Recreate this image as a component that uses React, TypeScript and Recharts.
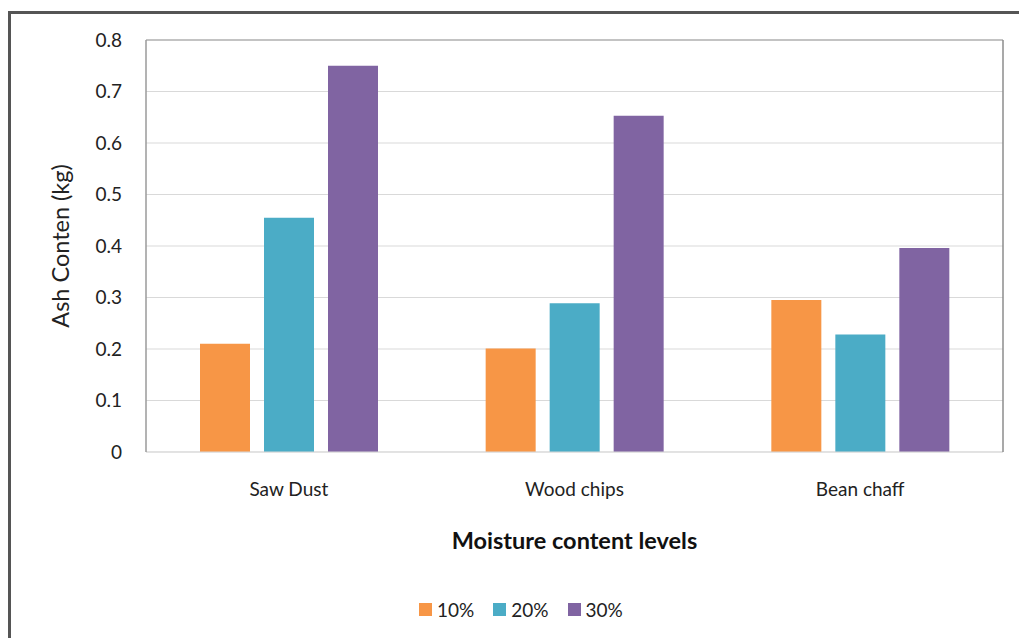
import { BarChart, Bar, XAxis, YAxis, CartesianGrid, Legend } from "recharts";

const categories = ["Saw Dust", "Wood chips", "Bean chaff"];
const moisture10 = [0.21, 0.201, 0.295];
const moisture20 = [0.455, 0.289, 0.228];
const moisture30 = [0.75, 0.653, 0.396];
const seriesNames = ["10%", "20%", "30%"];
const seriesColors = ["#F79646", "#4BACC6", "#8064A2"];
const yTicks = [0, 0.1, 0.2, 0.3, 0.4, 0.5, 0.6, 0.7, 0.8];

const data = categories.map((name, i) => ({
  name,
  m10: moisture10[i],
  m20: moisture20[i],
  m30: moisture30[i],
}));
const keys = ["m10", "m20", "m30"];

const font = "Lato, 'Open Sans', sans-serif";

function AshLegend() {
  return (
    <div style={{ display: "flex", alignItems: "center", paddingLeft: 419, paddingTop: 8, fontFamily: font, fontSize: 19, color: "#222" }}>
      {seriesNames.map((s, i) => (
        <div key={s} style={{ display: "flex", alignItems: "center", marginRight: 19 }}>
          <div style={{ width: 13, height: 13, background: seriesColors[i], marginRight: 5 }} />
          <span>{s}</span>
        </div>
      ))}
    </div>
  );
}

export default function App() {
  return (
    <div style={{ position: "absolute", left: 0, top: 0, width: 1019, height: 638, background: "#fff", overflow: "hidden" }}>
      <div
        style={{
          position: "absolute",
          left: 8,
          top: 11,
          width: 1030,
          height: 650,
          borderLeft: "3px solid #555",
          borderTop: "3px solid #555",
        }}
      />
      <div style={{ position: "absolute", left: 0, top: 0 }}>
        <BarChart
          width={1019}
          height={638}
          data={data}
          margin={{ top: 39, right: 15, left: 0, bottom: 8 }}
          barSize={50}
          barGap={14}
        >
          <CartesianGrid vertical={false} stroke="#d9d9d9" />
          <XAxis
            dataKey="name"
            height={138}
            axisLine={{ stroke: "#d9d9d9" }}
            tickLine={false}
            tickSize={0}
            tickMargin={31}
            tick={{ fontFamily: font, fontSize: 19, fill: "#222" }}
            label={{
              value: "Moisture content levels",
              position: "insideBottom",
              offset: 41,
              style: { fontFamily: font, fontSize: 23.5, fontWeight: 700, fill: "#111" },
            }}
          />
          <XAxis xAxisId="top" dataKey="name" orientation="top" height={1} tick={false} tickLine={false} axisLine={{ stroke: "#9a9a9a" }} />
          <YAxis
            width={146}
            domain={[0, 0.8]}
            ticks={yTicks}
            axisLine={{ stroke: "#9a9a9a", strokeWidth: 1.5 }}
            tickLine={false}
            tickSize={0}
            tickMargin={24}
            tick={{ fontFamily: font, fontSize: 19, fill: "#222" }}
            label={{
              content: ({ viewBox }: any) => {
                const cx = viewBox.x + 60;
                const cy = viewBox.y + viewBox.height / 2;
                return (
                  <text
                    x={cx}
                    y={cy}
                    transform={`rotate(-90 ${cx} ${cy})`}
                    textAnchor="middle"
                    dominantBaseline="central"
                    style={{ fontFamily: font, fontSize: 23.5, fill: "#222" }}
                  >
                    Ash Conten (kg)
                  </text>
                );
              },
            }}
          />
          <YAxis yAxisId="right" orientation="right" width={1} domain={[0, 0.8]} tick={false} tickLine={false} axisLine={{ stroke: "#8c8c8c", strokeWidth: 1.5 }} />
          <Legend verticalAlign="bottom" height={40} wrapperStyle={{ left: 0, width: 1019 }} content={() => <AshLegend />} />
          {keys.map((k, i) => (
            <Bar key={k} dataKey={k} name={seriesNames[i]} fill={seriesColors[i]} isAnimationActive={false} />
          ))}
        </BarChart>
      </div>
    </div>
  );
}
